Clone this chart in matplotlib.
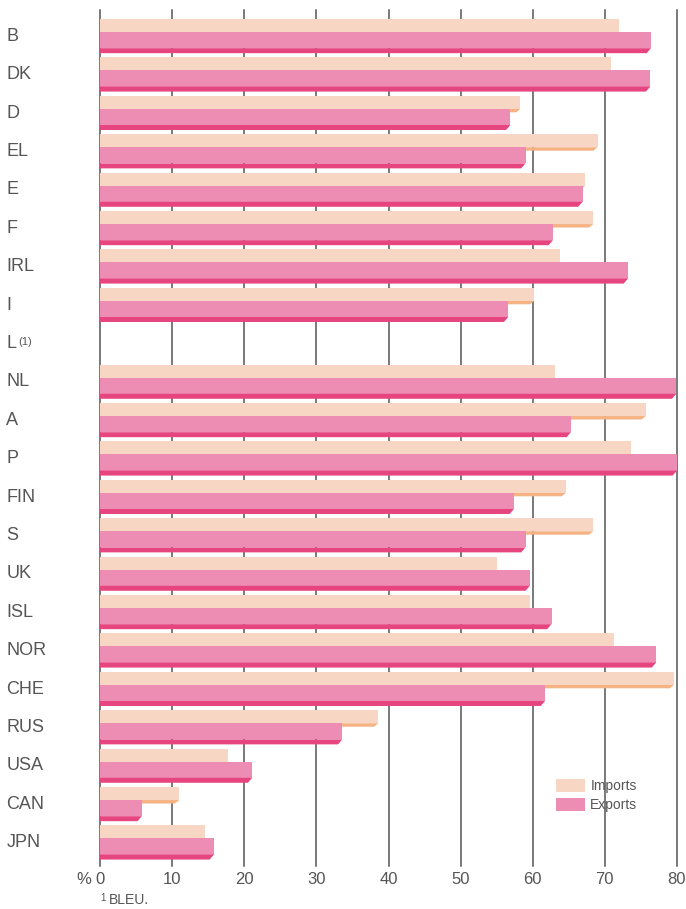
import numpy as np
import matplotlib.pyplot as plt
from matplotlib.patches import Polygon, Patch

plt.rcParams['font.family'] = ['Liberation Sans', 'DejaVu Sans']

countries = ['B', 'DK', 'D', 'EL', 'E', 'F', 'IRL', 'I', 'L', 'NL', 'A',
             'P', 'FIN', 'S', 'UK', 'ISL', 'NOR', 'CHE', 'RUS', 'USA', 'CAN', 'JPN']
imports = [72.0, 70.9, 58.3, 69.0, 67.3, 68.4, 63.8, 60.2, np.nan, 63.1, 75.7,
           73.6, 64.6, 68.4, 55.1, 59.6, 71.3, 79.6, 38.6, 17.8, 11.0, 14.6]
exports = [76.4, 76.3, 56.9, 59.0, 66.9, 62.8, 73.2, 56.6, np.nan, 79.9, 65.3,
           80.0, 57.4, 59.0, 59.6, 62.6, 77.1, 61.7, 33.6, 21.1, 5.8, 15.8]
xticks = [0, 10, 20, 30, 40, 50, 60, 70, 80]

c_imp = '#f7d6c4'
c_imp_dark = '#f5b283'
c_exp = '#ee8db4'
c_exp_dark = '#e6457f'
c_grid = '#555555'
c_text = '#555555'

fig = plt.figure(figsize=(6.86, 9.09), dpi=100)
ax = fig.add_axes([100 / 686, 43 / 909, 577 / 686, 856 / 909])

y0 = 9 / 38.4          # top of first group
h_imp = 0.34
h_exp = 0.42
d_imp = 0.09            # depth of 3D underside (imports)
d_exp = 0.13            # depth of 3D underside (exports)
s = 0.6                 # slant of underside end

for i, (imp, exp) in enumerate(zip(imports, exports)):
    top = y0 + i
    if not np.isnan(imp):
        yb = top + h_imp
        ax.add_patch(Polygon([(0, yb), (imp, yb), (imp - s, yb + d_imp), (0, yb + d_imp)],
                             closed=True, color=c_imp_dark, lw=0, zorder=2))
        ax.barh(top, imp, height=h_imp, align='edge', color=c_imp, lw=0, zorder=2.1)
    if not np.isnan(exp):
        yt = top + h_imp
        ax.barh(yt, exp, height=h_exp, align='edge', color=c_exp, lw=0, zorder=3)
        yb = yt + h_exp
        ax.add_patch(Polygon([(0, yb), (exp, yb), (exp - s, yb + d_exp), (0, yb + d_exp)],
                             closed=True, color=c_exp_dark, lw=0, zorder=3))
    lab = countries[i]
    ty = top + 0.45
    if lab == 'L':
        ax.text(-13, ty, 'L', ha='left', va='center', fontsize=13, color=c_text)
        ax.text(-11.35, ty - 0.05, '(1)', ha='left', va='center', fontsize=8, color=c_text)
    else:
        ax.text(-13, ty, lab, ha='left', va='center', fontsize=13, color=c_text)

for x in xticks:
    ax.axvline(x, color=c_grid, lw=1.1, zorder=1, clip_on=False)

ax.set_xlim(0, 80)
ax.set_ylim(856 / 38.4, 0)
ax.set_yticks([])
ax.set_xticks(xticks)
ax.tick_params(axis='x', length=0, pad=4, labelsize=12, labelcolor=c_text)
for sp in ax.spines.values():
    sp.set_visible(False)

fig.text(91 / 686, 1 - 880 / 909, '%', fontsize=12, color=c_text, ha='right', va='center')

fig.text(100 / 686, 1 - 903 / 909, '1', fontsize=7, color=c_text, ha='left', va='bottom')
fig.text(109 / 686, 1 - 909 / 909 + 0.002, 'BLEU.', fontsize=10, color=c_text, ha='left', va='bottom')

handles = [Patch(color=c_imp, lw=0), Patch(color=c_exp, lw=0)]
ax.legend(handles, ['Imports', 'Exports'], loc='upper left', bbox_to_anchor=(0.78, 0.108),
          frameon=False, fontsize=10, handlelength=2.1, handleheight=1.05,
          labelspacing=0.35, handletextpad=0.4, borderaxespad=0, labelcolor=c_text)

fig.savefig('out.png', dpi=100)
